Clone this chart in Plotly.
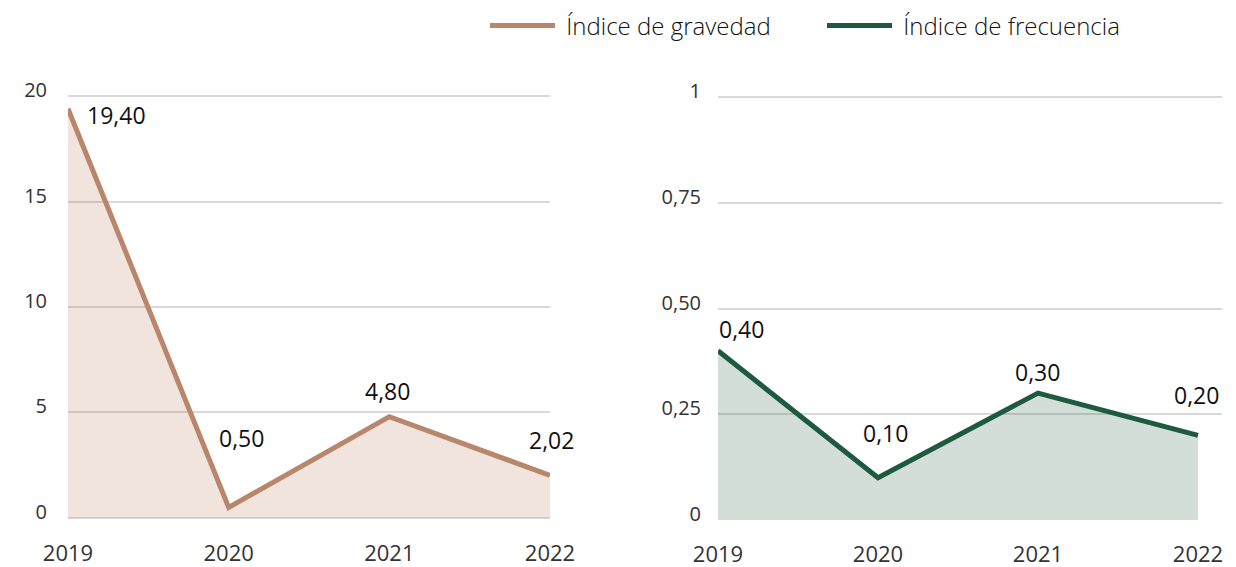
import plotly.graph_objects as go

years = [2019, 2020, 2021, 2022]
gravedad = [19.40, 0.50, 4.80, 2.02]
frecuencia = [0.40, 0.10, 0.30, 0.20]
grav_labels = ["19,40", "0,50", "4,80", "2,02"]
frec_labels = ["0,40", "0,10", "0,30", "0,20"]
grav_ticks = [0, 5, 10, 15, 20]
grav_ticktext = ["0", "5", "10", "15", "20"]
frec_ticks = [0, 0.25, 0.5, 0.75, 1]
frec_ticktext = ["0", "0,25", "0,50", "0,75", "1"]
series_names = ["Índice de gravedad", "Índice de frecuencia"]

# label offsets (px) relative to points
grav_off = [(48, -6), (13, 69), (-2, 26), (1, 35)]
frec_off = [(23, 22), (7, 45), (-1, 21), (-2, 40)]

BROWN = "#b8866b"
BROWN_FILL = "rgba(180,118,85,0.2)"
GREEN = "#1e5a40"
GREEN_FILL = "rgba(35,90,60,0.2)"
GRID = "#d9d9d9"
FONT = "Open Sans"

fig = go.Figure()
# area fills (no legend)
fig.add_trace(go.Scatter(x=years, y=gravedad, mode="lines", showlegend=False, hoverinfo="skip",
                         line=dict(width=0, color=BROWN), fill="tozeroy", fillcolor=BROWN_FILL,
                         xaxis="x", yaxis="y"))
fig.add_trace(go.Scatter(x=years, y=frecuencia, mode="lines", showlegend=False, hoverinfo="skip",
                         line=dict(width=0, color=GREEN), fill="tozeroy", fillcolor=GREEN_FILL,
                         xaxis="x2", yaxis="y2"))
# lines
fig.add_trace(go.Scatter(x=years, y=gravedad, mode="lines", name="\u00a0" + series_names[0],
                         line=dict(color=BROWN, width=5), xaxis="x", yaxis="y"))
fig.add_trace(go.Scatter(x=years, y=frecuencia, mode="lines", name="\u00a0" + series_names[1],
                         line=dict(color=GREEN, width=5), xaxis="x2", yaxis="y2"))

anns = []
for x, y, t, (dx, dy) in zip(years, gravedad, grav_labels, grav_off):
    anns.append(dict(x=x, y=y, xref="x", yref="y", text=t, showarrow=False,
                     xshift=dx, yshift=dy, font=dict(family=FONT, size=23, color="#111")))
for x, y, t, (dx, dy) in zip(years, frecuencia, frec_labels, frec_off):
    anns.append(dict(x=x, y=y, xref="x2", yref="y2", text=t, showarrow=False,
                     xshift=dx, yshift=dy, font=dict(family=FONT, size=23, color="#111")))

tickfont = dict(family=FONT, size=20, color="#333")
xtickfont = dict(family=FONT, size=22, color="#333")

fig.update_layout(
    width=1236, height=567,
    margin=dict(l=0, r=0, t=0, b=0),
    paper_bgcolor="white", plot_bgcolor="rgba(0,0,0,0)",
    showlegend=True,
    legend=dict(orientation="h", x=485/1236, y=1-26/567, xanchor="left", yanchor="middle",
                font=dict(family=FONT, size=24, color="#111", weight=300),
                bgcolor="rgba(0,0,0,0)", itemwidth=65,
                entrywidth=257, entrywidthmode="pixels", tracegroupgap=0),
    annotations=anns,
    xaxis=dict(domain=[68/1236, 550/1236], range=[2019, 2022], tickvals=years,
               ticktext=[str(y) for y in years], showgrid=False, zeroline=False,
               showline=False, ticks="", tickfont=xtickfont, ticklabelstandoff=19,
               anchor="y", automargin=False),
    yaxis=dict(domain=[1-519/567, 1-95/567], range=[-0.05, 20.05], tickvals=grav_ticks,
               ticktext=grav_ticktext, showgrid=True, gridcolor=GRID, gridwidth=2,
               zeroline=False, showline=False, ticks="", tickfont=tickfont,
               ticklabelstandoff=20, ticklabelshift=-6, anchor="x", automargin=False),
    xaxis2=dict(domain=[718/1236, 1222/1236], range=[2019, 2022.15], tickvals=years,
                ticktext=[str(y) for y in years], showgrid=False, zeroline=False,
                showline=False, ticks="", tickfont=xtickfont, ticklabelstandoff=19,
                anchor="y2", automargin=False),
    yaxis2=dict(domain=[1-520/567, 1-96/567], range=[0, 1.0025], tickvals=frec_ticks,
                ticktext=frec_ticktext, showgrid=True, gridcolor=GRID, gridwidth=2,
                zeroline=False, showline=False, ticks="", tickfont=tickfont,
                ticklabelstandoff=16, ticklabelshift=-6, anchor="x2", automargin=False),
)

fig.write_html("out.html", config={"displayModeBar": False},
               post_script="document.body.style.margin='0';document.body.style.overflow='hidden';")
